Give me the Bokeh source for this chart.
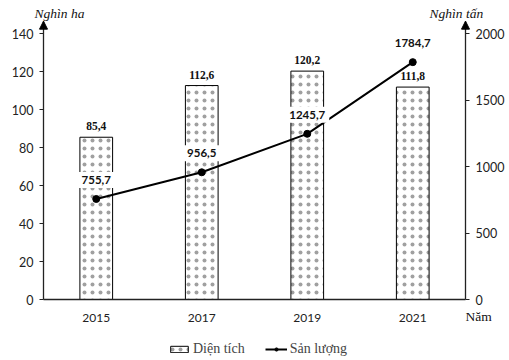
from bokeh.plotting import figure
from bokeh.models import (Range1d, LinearAxis, FixedTicker, ColumnDataSource, LabelSet,
                          Label, Arrow, NormalHead, Legend, LegendItem)
from bokeh.core.properties import value
from bokeh.embed import file_html
from bokeh.resources import INLINE

years = ["2015", "2017", "2019", "2021"]
area = [85.4, 112.6, 120.2, 111.8]          # Diện tích (nghìn ha)
output = [755.7, 956.5, 1245.7, 1784.7]     # Sản lượng (nghìn tấn)
left_ticks = [0, 20, 40, 60, 80, 100, 120, 140]
right_ticks = [0, 500, 1000, 1500, 2000]

W, H = 509, 360
N = len(years)
# pixel geometry of the axes box
PX_L, PX_R, PX_B, PX_T = 43, 465, 299, 33   # PX_T = pixel of value 140
sx = (PX_R - PX_L) / N
sy = (PX_B - PX_T) / 140
x0 = -PX_L / sx
x1 = N + (W - PX_R) / sx
y1 = PX_B / sy
y0 = -(H - PX_B) / sy
K = 2000 / 140
TOP = 146.5

xs = [i + 0.5 for i in range(N)]
fmt = lambda v: f"{v:.1f}".replace(".", ",")
src = ColumnDataSource(dict(x=xs, area=area, out=output,
                            area_s=[fmt(v) for v in area], out_s=[fmt(v) for v in output]))

p = figure(width=W, height=H, output_backend="svg", toolbar_location=None,
           x_range=Range1d(x0, x1), y_range=Range1d(y0, y1),
           min_border=0, y_axis_location=None, x_axis_location=None)
p.outline_line_color = None
p.xgrid.visible = False
p.ygrid.visible = False
p.extra_y_ranges = {"y2": Range1d(y0 * K, y1 * K)}

AX = "#222222"
TICK_FONT = "Lato"

yl = LinearAxis(ticker=FixedTicker(ticks=left_ticks), fixed_location=0, bounds=(0, TOP))
yr = LinearAxis(ticker=FixedTicker(ticks=right_ticks), y_range_name="y2", fixed_location=N,
                bounds=(0, TOP * K))
xa = LinearAxis(ticker=FixedTicker(ticks=xs), fixed_location=0, bounds=(0, N),
                major_label_overrides={x: y for x, y in zip(xs, years)})
for ax in (yl, yr, xa):
    ax.axis_line_color = AX
    ax.axis_line_width = 1.3
    ax.major_tick_line_color = AX
    ax.minor_tick_line_color = None
    ax.major_tick_in = 0
    ax.major_tick_out = 4
    ax.major_label_text_font = TICK_FONT
    ax.major_label_text_font_size = "12.5px"
    ax.major_label_text_color = "#222222"
    ax.major_label_standoff = 6
xa.major_tick_out = 0
xa.major_label_standoff = 14
xa.major_label_text_font_size = "12px"
p.add_layout(yl, "left")
p.add_layout(yr, "right")
p.add_layout(xa, "below")

bars = p.vbar(x="x", top="area", width=0.31, source=src, fill_color="white",
              line_color="black", line_width=1, hatch_pattern=".", hatch_color="#a0a0a0",
              hatch_scale=8, hatch_weight=0.4)
ln = p.line(x="x", y="out", source=src, y_range_name="y2", line_color="black", line_width=2)
pts = p.scatter(x="x", y="out", source=src, y_range_name="y2", size=7, fill_color="black",
                line_color="black")

p.add_layout(LabelSet(x="x", y="area", text="area_s", source=src, text_align="center",
                      text_baseline="bottom", y_offset=7, text_font=TICK_FONT,
                      text_font_style="bold", text_font_size="11.5px", text_color="#111111"))
p.text(x="x", y="out", text="out_s", source=src, y_range_name="y2",
       text_align="center", text_baseline="bottom", y_offset=-11,
       text_font=value(TICK_FONT), text_font_style="bold", text_font_size="11.5px",
       text_color="#111111", background_fill_color="white", padding=4)

for xv in (0, N):
    p.add_layout(Arrow(x_start=xv, y_start=TOP - 4, x_end=xv, y_end=TOP,
                       line_color=AX, line_width=1.3,
                       end=NormalHead(size=8, fill_color="black", line_color="black")))

TITLE_Y = (PX_B - 12.5) / sy
p.add_layout(Label(x=0, y=TITLE_Y, text="Nghìn ha", text_align="left", text_baseline="middle",
                   x_offset=-9, text_font="Liberation Serif", text_font_style="italic",
                   text_font_size="13.5px", text_color="#111111"))
p.add_layout(Label(x=N, y=TITLE_Y, text="Nghìn tấn", text_align="left",
                   text_baseline="middle", x_offset=-36, text_font="Liberation Serif",
                   text_font_style="italic", text_font_size="13.5px", text_color="#111111"))
p.add_layout(Label(x=N, y=0, text="Năm", text_align="left", text_baseline="middle",
                   x_offset=0, y_offset=-17, text_font="Liberation Serif",
                   text_font_size="13.5px", text_color="#111111"))

legend = Legend(items=[LegendItem(label="Diện tích", renderers=[bars]),
                       LegendItem(label="Sản lượng", renderers=[ln, pts])],
                orientation="horizontal", location=(168, 3), border_line_color=None,
                background_fill_alpha=0,
                label_text_font="Liberation Serif", label_text_font_size="14px",
                glyph_width=22, glyph_height=8, label_standoff=3, spacing=20,
                padding=4, margin=0)
p.add_layout(legend)

open("out.html", "w").write(file_html(p, INLINE))
